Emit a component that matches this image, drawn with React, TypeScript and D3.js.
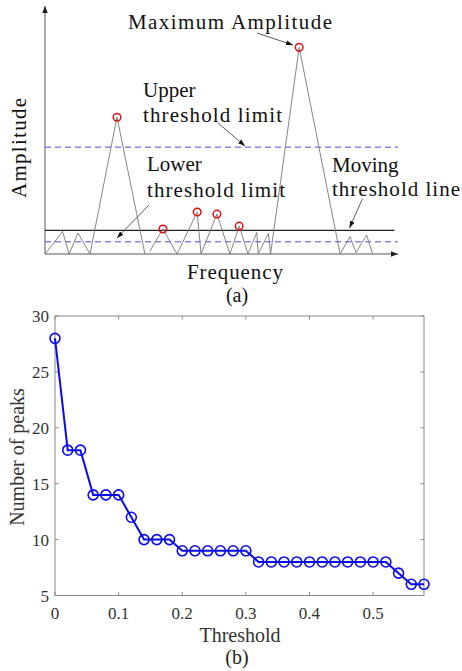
import React from "react";
import * as d3 from "d3";

// panel (a): sketch of a spectrum, abstract units
const sigFreq = [0, 5, 6.8, 9.35, 12.75, 20.4, 28.3, NaN, 29.7, 33.4, 37.4, 43.1, 44.2, 48.7, 52.4, 55.0, 57.5, 60.0, 60.4, 63.3, 63.9, 72.0, 83.6, 86.4, 88.1, 91.1, 92.8];
const sigAmp = [0, 10.9, 0, 10.1, 0, 66.2, 0, NaN, 1.4, 12.1, 0, 20.3, 0, 19.3, 0, 13.5, 0, 10.4, 0, 10.0, 0, 100, 0, 8.4, 0.7, 9.2, 0];
const peakFreq = [20.4, 33.4, 43.1, 48.7, 55.0, 72.0];
const peakAmp = [66.2, 12.1, 20.3, 19.3, 13.5, 100];
const upperLimit = 51.7;
const lowerLimit = 5.9;
const movingLine = 11.4;

// panel (b): number of peaks vs threshold
const thresholds = d3.range(30).map((i) => +(i * 0.02).toFixed(2));
const peakCounts = [28, 18, 18, 14, 14, 14, 12, 10, 10, 10, 9, 9, 9, 9, 9, 9, 8, 8, 8, 8, 8, 8, 8, 8, 8, 8, 8, 7, 6, 6];
const xTicksB = [0, 0.1, 0.2, 0.3, 0.4, 0.5];
const yTicksB = [5, 10, 15, 20, 25, 30];

const serif: React.CSSProperties = { fontFamily: "'Liberation Serif', 'Times New Roman', serif" };

function Arrow({ x1, y1, x2, y2 }: { x1: number; y1: number; x2: number; y2: number }) {
  return <line x1={x1} y1={y1} x2={x2} y2={y2} stroke="#333" strokeWidth={0.8} markerEnd="url(#arrowHead)" />;
}

export default function App() {
  // panel (a) scales
  const xa = d3.scaleLinear().domain([0, 100]).range([45, 398]);
  const ya = d3.scaleLinear().domain([0, 120]).range([254, 6]);
  const sig = sigFreq.map((f, i) => ({ f, a: sigAmp[i] }));
  const sigLine = d3
    .line<{ f: number; a: number }>()
    .defined((d) => !isNaN(d.f))
    .x((d) => xa(d.f))
    .y((d) => ya(d.a));

  // panel (b) scales
  const xb = d3.scaleLinear().domain([0, 0.58]).range([55, 424]);
  const yb = d3.scaleLinear().domain([5, 30]).range([595.5, 316]);
  const bLine = d3
    .line<number>()
    .x((_, i) => xb(thresholds[i]))
    .y((d) => yb(d));

  const axisCol = "#8a8a8a";

  return (
    <div style={{ position: "absolute", left: 0, top: 0 }}>
      <svg width={462} height={671} style={{ display: "block", background: "#fff", ...serif }}>
        <defs>
          <marker id="arrowHead" viewBox="0 0 10 10" refX={10} refY={5} markerWidth={7} markerHeight={7} orient="auto" markerUnits="userSpaceOnUse">
            <path d="M0,1.5 L10,5 L0,8.5 Z" fill="#111" />
          </marker>
          <marker id="axisHead" viewBox="0 0 10 10" refX={10} refY={5} markerWidth={7} markerHeight={7} orient="auto" markerUnits="userSpaceOnUse">
            <path d="M0,1 L10,5 L0,9 Z" fill="#222" />
          </marker>
        </defs>

        {/* ---------- (a) ---------- */}
        <line x1={xa(0)} y1={ya(0)} x2={xa(0)} y2={ya(120)} stroke="#444" strokeWidth={0.9} markerEnd="url(#axisHead)" />
        <line x1={xa(0)} y1={ya(0)} x2={xa(100)} y2={ya(0)} stroke="#444" strokeWidth={0.9} markerEnd="url(#axisHead)" />

        <line x1={xa(0)} x2={xa(100)} y1={ya(upperLimit)} y2={ya(upperLimit)} stroke="#4a4ae6" strokeWidth={1} strokeDasharray="6,4" />
        <line x1={xa(0)} x2={xa(100)} y1={ya(lowerLimit)} y2={ya(lowerLimit)} stroke="#4a4ae6" strokeWidth={1} strokeDasharray="6,4" />
        <line x1={xa(0)} x2={xa(99)} y1={ya(movingLine)} y2={ya(movingLine)} stroke="#222" strokeWidth={1.2} />

        <path d={sigLine(sig) || ""} fill="none" stroke="#777" strokeWidth={0.9} />

        {peakFreq.map((f, i) => (
          <circle key={i} cx={xa(f)} cy={ya(peakAmp[i])} r={3.8} fill="none" stroke="#e01010" strokeWidth={1.5} />
        ))}

        <Arrow x1={257} y1={33} x2={293} y2={45} />
        <Arrow x1={218} y1={123} x2={245} y2={146} />
        <Arrow x1={149} y1={205} x2={117} y2={238} />
        <Arrow x1={362.5} y1={198.5} x2={349.5} y2={228} />

        <g fontSize={21} fill="#111" style={serif}>
          <text x={128} y={29} textLength={204} style={serif}>Maximum Amplitude</text>
          <text x={143} y={97} style={serif}>Upper</text>
          <text x={143} y={122} textLength={139} style={serif}>threshold limit</text>
          <text x={147} y={171} style={serif}>Lower</text>
          <text x={147} y={197} textLength={138} style={serif}>threshold limit</text>
          <text x={332} y={172} style={serif}>Moving</text>
          <text x={332} y={196} textLength={128} style={serif}>threshold line</text>
          <text x={235} y={279} textAnchor="middle" textLength={96} style={serif}>Frequency</text>
          <text x={237} y={302} textAnchor="middle" fontSize={20} style={serif}>(a)</text>
          <text transform="translate(26,148) rotate(-90)" textAnchor="middle" textLength={100} style={serif}>Amplitude</text>
        </g>

        {/* ---------- (b) ---------- */}
        <rect x={xb(0)} y={yb(30)} width={xb(0.58) - xb(0)} height={yb(5) - yb(30)} fill="none" stroke={axisCol} strokeWidth={1} />
        {xTicksB.map((t) => (
          <g key={t}>
            <line x1={xb(t)} x2={xb(t)} y1={yb(5)} y2={yb(5) - 3.5} stroke={axisCol} />
            <line x1={xb(t)} x2={xb(t)} y1={yb(30)} y2={yb(30) + 3.5} stroke={axisCol} />
            <text x={xb(t)} y={619} textAnchor="middle" fontSize={17} fill="#333" style={serif}>{t}</text>
          </g>
        ))}
        {yTicksB.map((t) => (
          <g key={t}>
            <line x1={xb(0)} x2={xb(0) + 3.5} y1={yb(t)} y2={yb(t)} stroke={axisCol} />
            <line x1={xb(0.58)} x2={xb(0.58) - 3.5} y1={yb(t)} y2={yb(t)} stroke={axisCol} />
            <text x={49} y={yb(t) + 6} textAnchor="end" fontSize={17} fill="#333" style={serif}>{t}</text>
          </g>
        ))}

        <path d={bLine(peakCounts) || ""} fill="none" stroke="#0a0af0" strokeWidth={2} />
        {peakCounts.map((v, i) => (
          <circle key={i} cx={xb(thresholds[i])} cy={yb(v)} r={5} fill="none" stroke="#0a0af0" strokeWidth={1.6} />
        ))}

        <text x={240} y={642} textAnchor="middle" fontSize={20} fill="#333" style={serif}>Threshold</text>
        <text x={237} y={664} textAnchor="middle" fontSize={20} fill="#222" style={serif}>(b)</text>
        <text transform="translate(24,457) rotate(-90)" textAnchor="middle" fontSize={20} fill="#333" style={serif}>Number of peaks</text>
      </svg>
    </div>
  );
}
